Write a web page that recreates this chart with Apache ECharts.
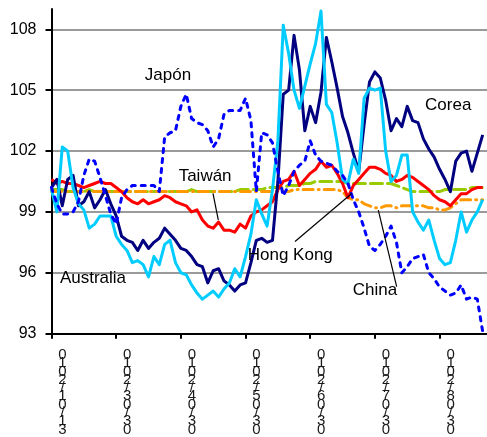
<!DOCTYPE html>
<html>
<head>
<meta charset="utf-8">
<script src="https://cdn.jsdelivr.net/npm/echarts@6/dist/echarts.min.js"></script>
<style>
  html, body { margin: 0; padding: 0; background: #ffffff; }
  #chart { width: 487px; height: 437px; }
</style>
</head>
<body>
<div id="chart"></div>
<script>
// Tipos de cambio frente al dólar, índice (base 100), datos diarios
const tickDates = ['31/01/2010', '03/03/2010', '03/04/2010', '03/05/2010', '03/06/2010', '03/07/2010', '03/08/2010'];
const tickStep = 12;
const yTicks = [93, 96, 99, 102, 105, 108];

const hongKong = [
  100.1,100.1,100.1,100.0,100.0,100.0,100.0,100.1,100.0,100.0,
  100.0,100.0,100.0,100.0,100.0,100.0,100.0,100.0,100.0,100.0,
  100.0,100.0,100.0,100.0,100.0,100.0,100.1,100.0,100.0,100.0,
  100.0,100.0,100.0,100.0,100.0,100.1,100.1,100.1,100.1,100.1,
  100.2,100.2,100.2,100.2,100.3,100.3,100.3,100.4,100.4,100.5,
  100.5,100.5,100.5,100.5,100.5,100.4,100.4,100.4,100.4,100.4,
  100.4,100.4,100.4,100.4,100.3,100.2,100.1,100.0,100.0,100.0,
  100.0,100.0,100.0,100.1,100.1,100.1,100.1,100.1,100.2,100.2,100.2
];
const china = [
  100.0,100.0,100.0,100.0,100.0,100.0,100.0,100.0,100.0,100.0,
  100.0,100.0,100.0,100.0,100.0,100.0,100.0,100.0,100.0,100.0,
  100.0,100.0,100.0,100.0,100.0,100.0,100.0,100.0,100.0,100.0,
  100.0,100.0,100.0,100.0,100.0,100.0,100.0,100.0,100.0,100.0,
  100.0,100.0,100.0,100.0,100.0,100.1,100.1,100.1,100.1,100.1,
  100.1,100.1,100.1,100.1,100.0,99.7,99.6,99.6,99.4,99.3,
  99.2,99.2,99.3,99.3,99.2,99.3,99.3,99.3,99.3,99.3,
  99.2,99.2,99.1,99.1,99.2,99.4,99.6,99.6,99.6,99.6,99.6
];
const taiwan = [
  100.6,100.4,100.5,100.4,100.4,100.3,100.2,100.3,100.4,100.5,
  100.4,100.4,100.2,100.0,99.7,99.5,99.4,99.6,99.4,99.5,
  99.6,99.8,99.7,99.5,99.4,99.3,99.0,99.1,98.6,98.3,
  98.2,98.5,98.1,98.1,98.0,98.4,98.2,98.8,99.0,99.1,
  99.3,99.5,100.1,100.5,100.6,101.0,100.3,100.6,100.9,101.1,
  101.5,101.2,101.3,100.9,100.4,99.7,100.3,100.6,100.9,101.2,
  101.2,101.1,100.9,100.8,100.5,100.6,100.8,100.7,100.5,100.3,
  100.1,99.8,99.6,99.5,99.3,99.6,99.9,99.9,100.1,100.2,100.2
];
const corea = [
  100.2,100.6,99.3,100.6,100.8,99.3,99.5,100.0,99.2,99.6,
  100.1,99.4,98.8,97.8,97.6,97.5,97.1,97.6,97.2,97.5,
  97.7,98.2,97.9,97.6,97.2,97.1,96.8,96.4,96.3,95.5,
  96.1,96.2,95.6,95.4,95.1,95.4,95.5,96.5,97.6,97.7,
  97.5,97.6,100.5,104.8,105.0,107.7,106.0,103.0,104.2,103.4,
  104.9,107.6,106.4,105.1,103.7,102.9,101.9,101.0,103.3,105.4,
  105.9,105.6,104.5,103.0,103.6,103.2,104.2,103.5,103.4,102.6,
  102.1,101.7,101.1,100.6,100.0,101.5,101.9,102.0,101.0,101.9,102.8
];
const australia = [
  100.1,99.0,102.2,102.0,100.2,99.4,99.1,98.2,98.4,98.8,
  98.8,98.8,97.8,97.4,97.1,96.5,96.6,96.4,95.8,96.8,
  96.4,97.4,97.6,96.5,96.0,95.9,95.4,95.0,94.7,94.9,
  95.1,94.8,95.2,95.5,96.2,95.8,96.8,97.9,99.6,98.9,
  98.3,100.1,102.5,108.2,106.8,105.0,104.1,105.2,106.3,107.3,
  108.9,104.3,103.9,102.4,100.6,100.4,101.6,100.9,104.6,105.1,
  105.0,105.1,102.0,100.5,100.8,101.8,101.8,99.0,98.5,98.1,
  98.6,97.6,96.7,96.4,96.5,97.6,99.0,98.0,98.6,99.0,99.6
];
const japon = [
  100.2,99.4,98.9,98.9,99.0,99.5,100.8,101.6,101.5,100.7,
  99.8,98.9,98.4,99.7,100.1,100.3,100.3,100.3,100.3,100.3,
  100.0,102.7,102.9,103.0,104.2,104.8,103.6,103.4,103.3,103.0,
  102.2,102.6,103.8,104.0,104.0,104.0,104.6,103.5,100.0,102.9,
  102.8,102.4,101.0,99.8,100.3,101.0,101.3,101.5,102.5,101.8,
  101.5,101.4,101.3,101.0,100.8,100.4,99.6,99.0,98.2,97.3,
  97.1,97.4,97.8,98.3,97.5,96.0,96.3,96.7,96.8,96.9,
  96.0,95.7,95.3,95.1,94.9,95.0,95.4,94.7,94.8,94.7,93.1
];

// Rótulos de cada serie (posición en unidades del gráfico) y sus líneas guía
const notes = [
  { name: 'Japón', at: [21.6, 105.73] },
  { name: 'Corea', at: [73.6, 104.25] },
  { name: 'Taiwán', at: [28.5, 100.76] },
  { name: 'Hong Kong', at: [44.3, 96.88] },
  { name: 'China', at: [60.0, 95.16] },
  { name: 'Australia', at: [7.7, 95.75] }
];
const leaders = [
  [[29.96, 99.91], [30.95, 98.60]],
  [[45.18, 97.54], [55.70, 99.91]],
  [[60.63, 99.09], [64.04, 95.32]]
];

const FONT = '"Liberation Sans", Arial, sans-serif';
const pairs = arr => arr.map((v, i) => [i, v]);
const xTickValues = tickDates.map((_, k) => k * tickStep);

function lineSeries(name, values, color, type) {
  return {
    name: name,
    type: 'line',
    data: pairs(values),
    symbol: 'none',
    smooth: false,
    silent: true,
    lineStyle: { color: color, width: 3, type: type, cap: type === 'solid' ? 'butt' : 'round', join: 'round' }
  };
}

const hkSeries = lineSeries('Hong Kong', hongKong, '#99CC00', [12, 5]);
hkSeries.markPoint = {
  silent: true,
  symbol: 'circle',
  symbolSize: 0,
  data: notes.map(n => ({ name: n.name, coord: n.at })),
  label: {
    show: true,
    position: 'inside',
    formatter: p => p.name,
    color: '#000000',
    fontFamily: FONT,
    fontSize: 17
  }
};
hkSeries.markLine = {
  silent: true,
  symbol: ['none', 'none'],
  label: { show: false },
  lineStyle: { color: '#000000', width: 1.2, type: 'solid' },
  data: leaders.map(seg => [{ coord: seg[0] }, { coord: seg[1] }])
};

const chart = echarts.init(document.getElementById('chart'), null, { renderer: 'canvas' });
chart.setOption({
  animation: false,
  backgroundColor: '#ffffff',
  grid: { left: 51.5, right: 0, top: 9, bottom: 103, containLabel: false },
  xAxis: {
    type: 'value',
    min: 0,
    max: 80.8,
    interval: tickStep,
    axisLine: { show: true, onZero: false, lineStyle: { color: '#000000', width: 2 } },
    axisTick: { show: true, customValues: xTickValues, length: 5, inside: false, lineStyle: { color: '#000000', width: 2 } },
    splitLine: { show: false },
    axisLabel: {
      customValues: xTickValues,
      margin: 17,
      color: '#1a1a1a',
      fontFamily: FONT,
      fontSize: 15,
      lineHeight: 8.3,
      padding: [0, 0, 0, 22],
      formatter: v => tickDates[Math.round(v / tickStep)].split('').reverse().join('\n')
    }
  },
  yAxis: {
    type: 'value',
    min: 93,
    max: 109,
    interval: 3,
    axisLine: { show: true, onZero: false, lineStyle: { color: '#000000', width: 2 } },
    axisTick: { show: true, customValues: yTicks, length: 6, inside: false, lineStyle: { color: '#000000', width: 2 } },
    splitLine: { show: true, lineStyle: { color: '#9a9a9a', width: 2 } },
    axisLabel: {
      customValues: yTicks,
      margin: 15,
      color: '#000000',
      fontFamily: FONT,
      fontSize: 16
    }
  },
  series: [
    hkSeries,
    lineSeries('China', china, '#FF9900', [10, 5, 1, 5]),
    lineSeries('Taiwán', taiwan, '#FF0000', 'solid'),
    lineSeries('Corea', corea, '#000080', 'solid'),
    lineSeries('Australia', australia, '#00CCFF', 'solid'),
    lineSeries('Japón', japon, '#0000FF', [4, 6])
  ]
});
</script>
</body>
</html>
